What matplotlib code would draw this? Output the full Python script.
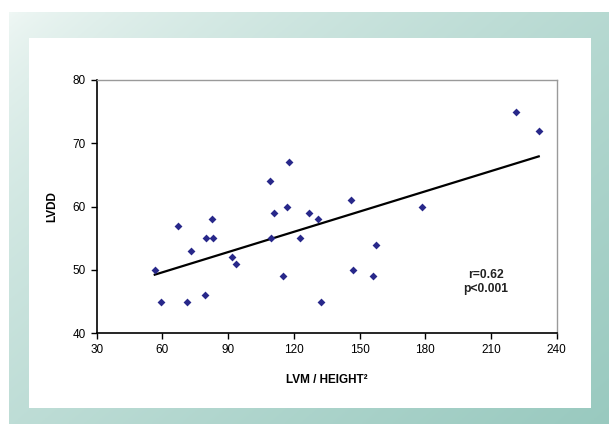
import numpy as np
import matplotlib
matplotlib.use("Agg")
import matplotlib.pyplot as plt
from matplotlib.patches import Rectangle

plt.rcParams['font.family'] = ['Liberation Sans', 'DejaVu Sans']

# datos
lvm_h2 = [56.5, 59.2, 67.3, 71.1, 72.9, 79.6, 79.9, 83.2, 82.8, 91.9,
          93.6, 109.7, 110.8, 114.9, 116.8, 122.8, 126.8, 131.2, 132.6, 109.1,
          117.7, 146.1, 147.2, 156.2, 157.5, 178.4, 221.5, 231.8]
lvdd = [50, 45, 57, 45, 53, 46, 55, 55, 58, 52,
        51, 55, 59, 49, 60, 55, 59, 58, 45, 64,
        67, 61, 50, 49, 54, 60, 75, 72]
xticks = [30, 60, 90, 120, 150, 180, 210, 240]
yticks = [40, 50, 60, 70, 80]

W, H = 609, 424
fig = plt.figure(figsize=(W / 100, H / 100), dpi=100)
fig.patch.set_facecolor('white')

# fondo degradado
bg = fig.add_axes([9 / W, 0, 600 / W, 412 / H])
gx, gy = np.meshgrid(np.linspace(0, 1, 200), np.linspace(0, 1, 200))
t = np.clip(0.55 * gx + 0.45 * gy, 0, 1) ** 0.7
c0 = np.array([0.94, 0.97, 0.96])
c1 = np.array([0.60, 0.79, 0.75])
img = c0[None, None, :] * (1 - t[..., None]) + c1[None, None, :] * t[..., None]
bg.imshow(img, aspect='auto', extent=[0, 1, 1, 0])
bg.set_axis_off()

# panel blanco
fig.patches.append(Rectangle((29 / W, (H - 408) / H), (591 - 29) / W, (408 - 38) / H,
                             transform=fig.transFigure, facecolor='white',
                             edgecolor='none', zorder=1))

ax = fig.add_axes([96.7 / W, (H - 333.3) / H, 460 / W, 253.3 / H])
ax.set_zorder(2)
ax.scatter(lvm_h2, lvdd, marker='D', s=16, color='#28288a', zorder=3, linewidths=0)

# linea de tendencia
m, b = np.polyfit(lvm_h2, lvdd, 1)
xs = np.array([min(lvm_h2), max(lvm_h2)])
ax.plot(xs, m * xs + b, color='black', lw=1.6, zorder=2)

ax.set_xlim(30, 240)
ax.set_ylim(40, 80)
ax.set_xticks(xticks)
ax.set_yticks(yticks)
ax.tick_params(direction='out', length=4, width=1, labelsize=8.5, pad=4)
for s in ['top', 'right']:
    ax.spines[s].set_color('#9a9a9a')
    ax.spines[s].set_linewidth(1)
for s in ['left', 'bottom']:
    ax.spines[s].set_color('black')
    ax.spines[s].set_linewidth(1.2)

ax.set_xlabel('LVM / HEIGHT²', fontsize=8.5, fontweight='bold', labelpad=13)
ax.set_ylabel('LVDD', fontsize=8.5, fontweight='bold', labelpad=10)
ax.text(207.8, 48.1, 'r=0.62\np<0.001', ha='center', va='center', fontsize=8.7,
        fontweight='bold', linespacing=1.25, color='#222222')

fig.savefig('out.png', dpi=100)
